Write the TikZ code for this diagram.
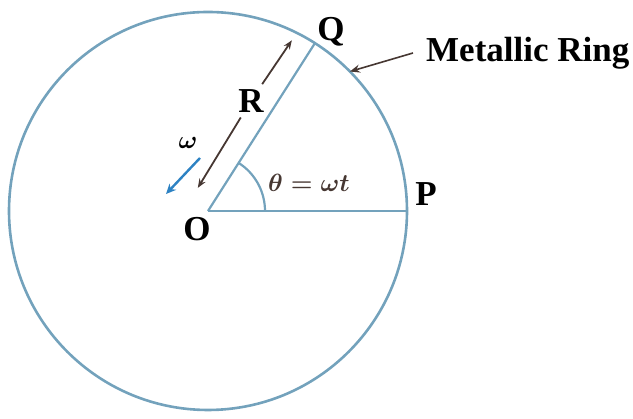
\documentclass[tikz,border=0pt]{standalone}
\usepackage{amsmath,amssymb}
\usepackage{fontspec}
\setmainfont{Liberation Serif}
\usepackage{xcolor}
\definecolor{ringblue}{RGB}{115,162,188}
\definecolor{omegablue}{RGB}{45,130,195}
\definecolor{dimgray}{RGB}{70,55,50}
\usetikzlibrary{arrows.meta,calc}

\begin{document}
\begin{tikzpicture}[
    x=1pt, y=1pt,
    ring/.style={draw=ringblue, line width=2.6pt},
    lbl/.style={font=\fontsize{35}{37}\selectfont\bfseries, inner sep=0pt},
    dimarrow/.style={-{Stealth[length=9pt,width=7pt]}, draw=dimgray, line width=1.8pt},
    omegaarrow/.style={-{Stealth[length=10pt,width=9pt]}, draw=omegablue, line width=2.4pt},
    callout/.style={-{Stealth[length=10pt,width=8pt]}, draw=dimgray, line width=1.6pt},
]
\useasboundingbox (0,0) rectangle (633,419);

% Metallic ring and radii
\coordinate (O) at (208,208);
\draw[ring] (O) circle (199);
\coordinate (P) at ($(O)+(0:199)$);
\coordinate (Q) at ($(O)+(57.5:199)$);
\draw[ring, line width=2.2pt] (O) -- (P);
\draw[ring, line width=2.2pt] (O) -- (Q);

% angle theta
\draw[ring, line width=2.2pt] ($(O)+(57,0)$) arc (0:57.5:57);
\node[font=\fontsize{23}{25}\selectfont\boldmath, text=dimgray] (theta) at (309,236) {$\theta = \omega t$};

% point labels
\node[lbl] (qlab) at (331,387) {Q};
\node[lbl] (plab) at (426,225) {P};
\node[lbl] (olab) at (197,190) {O};

% radius R (dimension arrows)
\coordinate (r1) at ($(O)+(57.5:14)+(147.5:21)$);
\coordinate (r2) at ($(O)+(57.5:189)+(147.5:21)$);
\node[lbl, inner sep=5pt] (rlab) at ($(O)+(57.5:116)+(147.5:23)$) {R};
\draw[dimarrow] (rlab) -- (r2);
\draw[dimarrow] (rlab) -- (r1);

% angular velocity
\node[font=\fontsize{32}{34}\selectfont\boldmath, inner sep=0pt] (wlab) at (188,276) {$\omega$};
\coordinate (w1) at (200,261);
\coordinate (w2) at (166,225);
\draw[omegaarrow] (w1) -- (w2);

% callout
\node[lbl, anchor=west, inner xsep=13pt] (ringlab) at (413,366) {Metallic Ring};
\coordinate (rp) at ($(O)+(44.5:199)$);
\draw[callout] (ringlab.west) -- (rp);
\end{tikzpicture}
\end{document}
